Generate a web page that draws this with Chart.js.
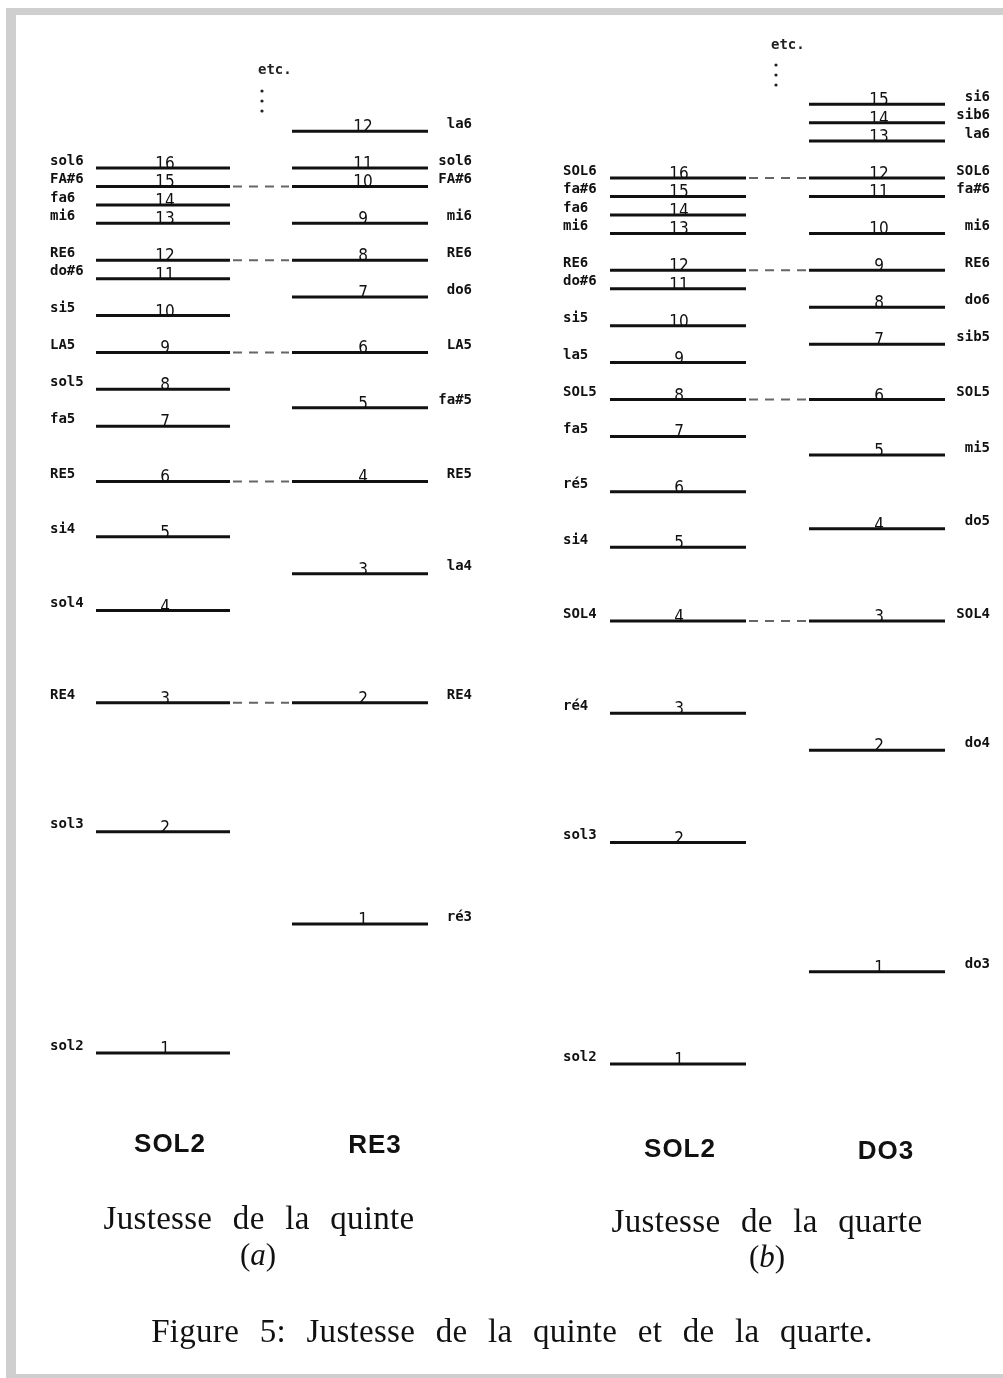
<!DOCTYPE html>
<html>
<head>
<meta charset="utf-8">
<script src="https://cdn.jsdelivr.net/npm/chart.js@4.4.1/dist/chart.umd.min.js"></script>
<style>
  html, body { margin: 0; padding: 0; background: #ffffff; }
  #wrap { position: relative; width: 1003px; height: 1378px; overflow: hidden; background: #fff; }
  #c { position: absolute; left: 0; top: 0; }
  .bar { position: absolute; background: #cfcfcf; }
  .t { position: absolute; white-space: nowrap; transform: translateX(-50%); color: #111; }
  .col { font-family: "Liberation Sans", Arial, sans-serif; font-weight: bold; font-size: 26px; line-height: 30px; letter-spacing: 1px; }
  .cap { font-family: "Liberation Serif", "Times New Roman", serif; font-size: 33px; line-height: 38px; word-spacing: 12px; letter-spacing: 0.3px; }
  .it { font-family: "Liberation Serif", "Times New Roman", serif; font-size: 31px; line-height: 34px; }
</style>
</head>
<body>
<div id="wrap">
  <div class="bar" style="left:6px;top:8px;width:997px;height:7px;"></div>
  <div class="bar" style="left:6px;top:8px;width:10px;height:1370px;"></div>
  <div class="bar" style="left:6px;top:1374px;width:997px;height:4px;"></div>
  <canvas id="c" width="1003" height="1378"></canvas>
  <div class="t col" style="left:170px;top:1128px;">SOL2</div>
  <div class="t col" style="left:375px;top:1129px;">RE3</div>
  <div class="t col" style="left:680px;top:1133px;">SOL2</div>
  <div class="t col" style="left:886px;top:1135px;">DO3</div>
  <div class="t cap" style="left:259px;top:1199px;">Justesse de la quinte</div>
  <div class="t it" style="left:258px;top:1238px;">(<i>a</i>)</div>
  <div class="t cap" style="left:767px;top:1202px;">Justesse de la quarte</div>
  <div class="t it" style="left:767px;top:1240px;">(<i>b</i>)</div>
  <div class="t cap" style="left:512px;top:1312px;">Figure 5: Justesse de la quinte et de la quarte.</div>
</div>
<script>
// ---------- DATA (pitch = semitones above SOL2) ----------
const sol2Harm   = [1,2,3,4,5,6,7,8,9,10,11,12,13,14,15,16];
const sol2PitchA = [0,12,19,24,28,31,34,36,38,40,42,43,45,46,47,48];
const sol2NotesA = ['sol2','sol3','RE4','sol4','si4','RE5','fa5','sol5','LA5','si5','do#6','RE6','mi6','fa6','FA#6','sol6'];

const re3Harm    = [1,2,3,4,5,6,7,8,9,10,11,12];
const re3Pitch   = [7,19,26,31,35,38,41,43,45,47,48,50];
const re3Notes   = ['ré3','RE4','la4','RE5','fa#5','LA5','do6','RE6','mi6','FA#6','sol6','la6'];

const sol2PitchB = [0,12,19,24,28,31,34,36,38,40,42,43,45,46,47,48];
const sol2NotesB = ['sol2','sol3','ré4','SOL4','si4','ré5','fa5','SOL5','la5','si5','do#6','RE6','mi6','fa6','fa#6','SOL6'];

const do3Harm    = [1,2,3,4,5,6,7,8,9,10,11,12,13,14,15];
const do3Pitch   = [5,17,24,29,33,36,39,41,43,45,47,48,50,51,52];
const do3Notes   = ['do3','do4','SOL4','do5','mi5','SOL5','sib5','do6','RE6','mi6','fa#6','SOL6','la6','sib6','si6'];

// common harmonics joined by dashed lines: [SOL2 harmonic, other harmonic]
const linksA = [[3,2],[6,4],[9,6],[12,8],[15,10]];
const linksB = [[4,3],[8,6],[12,9],[16,12]];

// ---------- LAYOUT ----------
const H = 1378;
function axisRange(p0, p48) {           // pixel of pitch 0 and pitch 48
  const k = (p0 - p48) / 48;
  return { min: -(H - p0) / k, max: 48 + p48 / k };
}
const rA = axisRange(1053, 168);
const rB = axisRange(1064, 178);

const cols = [
  { axis:'ya', harm:sol2Harm, pitch:sol2PitchA, notes:sol2NotesA, x0:96,  x1:230, numX:165, lblX:50,  align:'left'  },
  { axis:'ya', harm:re3Harm,  pitch:re3Pitch,   notes:re3Notes,   x0:292, x1:428, numX:363, lblX:472, align:'right' },
  { axis:'yb', harm:sol2Harm, pitch:sol2PitchB, notes:sol2NotesB, x0:610, x1:746, numX:679, lblX:563, align:'left'  },
  { axis:'yb', harm:do3Harm,  pitch:do3Pitch,   notes:do3Notes,   x0:809, x1:945, numX:879, lblX:990, align:'right' }
];

function segData(col) {
  const d = [];
  col.pitch.forEach(p => { d.push({x:col.x0, y:p}); d.push({x:col.x1, y:p}); d.push({x:col.x1, y:null}); });
  return d;
}
function linkData(links, left, right) {
  const d = [];
  links.forEach(([a,b]) => {
    const pa = left.pitch[left.harm.indexOf(a)];
    const pb = right.pitch[right.harm.indexOf(b)];
    d.push({x:left.x1 + 3, y:pa}); d.push({x:right.x0 - 3, y:pb}); d.push({x:right.x0, y:null});
  });
  return d;
}

const datasets = [];
cols.forEach(c => datasets.push({
  data: segData(c), yAxisID: c.axis, showLine: true, spanGaps: false,
  borderColor: '#111', borderWidth: 3, pointRadius: 0, borderCapStyle: 'butt'
}));
datasets.push({ data: linkData(linksA, cols[0], cols[1]), yAxisID:'ya', showLine:true, spanGaps:false,
  borderColor:'#666', borderWidth:2, borderDash:[9,7], pointRadius:0 });
datasets.push({ data: linkData(linksB, cols[2], cols[3]), yAxisID:'yb', showLine:true, spanGaps:false,
  borderColor:'#666', borderWidth:2, borderDash:[9,7], pointRadius:0 });

const labelPlugin = {
  id: 'labels',
  afterDatasetsDraw(chart) {
    const ctx = chart.ctx;
    ctx.save();
    cols.forEach(c => {
      const ys = chart.scales[c.axis];
      c.pitch.forEach((p, i) => {
        const y = ys.getPixelForValue(p);
        // harmonic number
        ctx.fillStyle = '#111';
        ctx.font = '17px "DejaVu Sans Condensed", "Liberation Sans Narrow", sans-serif';
        ctx.textAlign = 'center';
        ctx.textBaseline = 'alphabetic';
        ctx.fillText(String(c.harm[i]), c.numX, y + 1);
        // note name
        ctx.font = 'bold 14px "DejaVu Sans Mono", monospace';
        ctx.textAlign = c.align;
        ctx.textBaseline = 'middle';
        ctx.fillText(c.notes[i], c.lblX, y - 7);
      });
    });
    // "etc." marks
    ctx.font = 'bold 14px "DejaVu Sans Mono", monospace';
    ctx.textAlign = 'left';
    ctx.textBaseline = 'middle';
    ctx.fillStyle = '#222';
    ctx.fillText('etc.', 258, 70);
    ctx.fillText('etc.', 771, 45);
    [[262,[91,101,111]],[776,[65,75,85]]].forEach(([x, arr]) => arr.forEach(yy => {
      ctx.beginPath(); ctx.arc(x, yy, 1.6, 0, Math.PI*2); ctx.fill();
    }));
    ctx.restore();
  }
};

new Chart(document.getElementById('c'), {
  type: 'scatter',
  data: { datasets },
  options: {
    responsive: false, animation: false, devicePixelRatio: 1,
    layout: { padding: 0 },
    plugins: { legend: { display:false }, tooltip: { enabled:false } },
    scales: {
      x:  { type:'linear', min:0, max:1003, display:false },
      ya: { type:'linear', min:rA.min, max:rA.max, display:false },
      yb: { type:'linear', min:rB.min, max:rB.max, display:false }
    }
  },
  plugins: [labelPlugin]
});
</script>
</body>
</html>
